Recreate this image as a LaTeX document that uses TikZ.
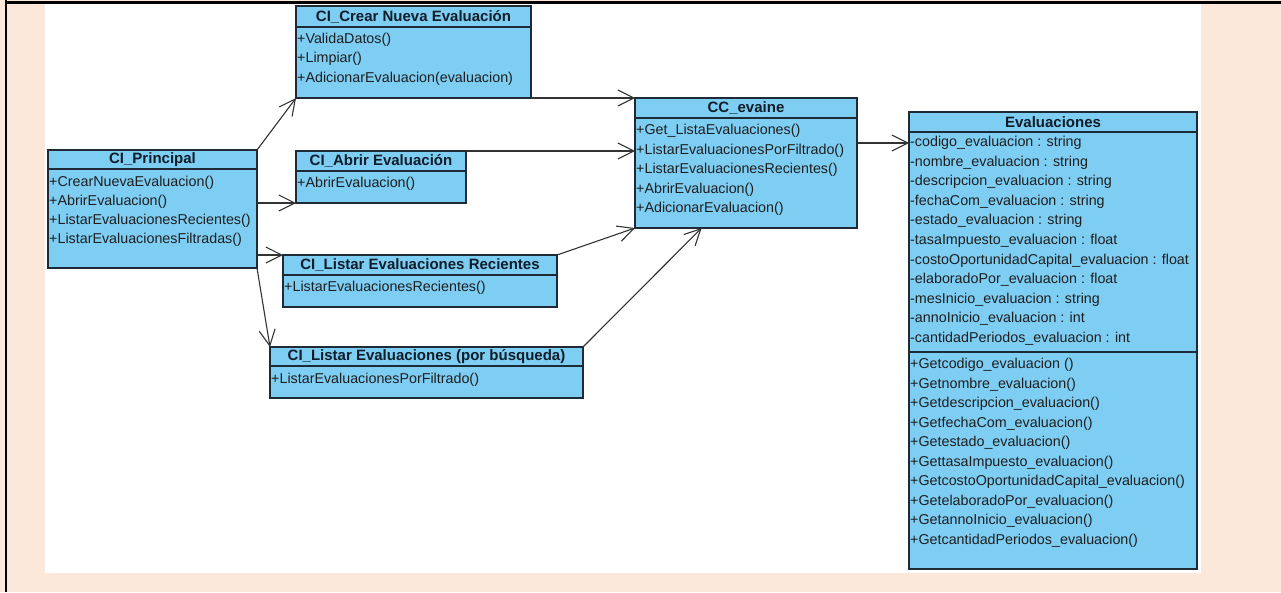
\documentclass[tikz,border=0pt]{standalone}
\usepackage{fontspec}
\setmainfont{Liberation Sans}
\usetikzlibrary{arrows.meta,calc}

\definecolor{peach}{HTML}{FCE8DA}
\definecolor{boxfill}{HTML}{7ECEF4}
\definecolor{boxline}{HTML}{1E2A36}
\definecolor{linecol}{HTML}{333333}
\definecolor{titlecol}{HTML}{101C28}
\definecolor{rowcol}{HTML}{1E1E1E}

\newcommand\rowfont{\fontsize{14.3}{16}\selectfont}
\newcommand\titlefont{\fontsize{15}{16}\selectfont\bfseries}

\tikzset{
  cls/.style={draw=boxline, fill=boxfill, line width=1.4pt, anchor=north west,
              inner sep=0pt, outer sep=0pt},
  sepline/.style={draw=boxline, line width=1.4pt},
  ttl/.style={font=\titlefont, text=titlecol, inner sep=0pt},
  row/.style={font=\rowfont, text=rowcol, anchor=west, inner xsep=1pt, inner ysep=0pt},
  assoc/.style={draw=linecol, line width=1.1pt, -{Straight Barb[length=16pt,width=16pt]}},
}

\begin{document}
\begin{tikzpicture}[x=1pt,y=-1pt]
  % page background, white sheet and frame
  \fill[peach] (0,0) rectangle (1281,592);
  \useasboundingbox (0,0) rectangle (1281,592);
  \fill[white] (45,3) rectangle (1201,573);
  \draw[black, line width=3pt] (6,2) -- (1281,2);
  \draw[black, line width=2.5pt] (6,0) -- (6,592);

  % ---------- CI_Principal ----------
  \node[cls, minimum width=209pt, minimum height=118pt] (principal) at (48,150) {};
  \draw[sepline] (48,169) -- (257,169);
  \node[ttl] (principal-t) at (152.5,159.5) {CI\_Principal};
  \node[row] (p1) at (48,183) {+CrearNuevaEvaluacion()};
  \node[row] (p2) at (48,202) {+AbrirEvaluacion()};
  \node[row] (p3) at (48,221) {+ListarEvaluacionesRecientes()};
  \node[row] (p4) at (48,240) {+ListarEvaluacionesFiltradas()};

  % ---------- CI_Crear Nueva Evaluación ----------
  \node[cls, minimum width=235pt, minimum height=92pt] (crear) at (296,6) {};
  \draw[sepline] (296,27) -- (531,27);
  \node[ttl] (crear-t) at (413.5,16.5) {CI\_Crear Nueva Evaluación};
  \node[row] (c1) at (296,40) {+ValidaDatos()};
  \node[row] (c2) at (296,59) {+Limpiar()};
  \node[row] (c3) at (296,79) {+AdicionarEvaluacion(evaluacion)};

  % ---------- CI_Abrir Evaluación ----------
  \node[cls, minimum width=170pt, minimum height=52pt] (abrir) at (296,151) {};
  \draw[sepline] (296,171) -- (466,171);
  \node[ttl] (abrir-t) at (381,161) {CI\_Abrir Evaluación};
  \node[row] (a1) at (296,184) {+AbrirEvaluacion()};

  % ---------- CI_Listar Evaluaciones Recientes ----------
  \node[cls, minimum width=274pt, minimum height=52pt] (recientes) at (283,255) {};
  \draw[sepline] (283,275) -- (557,275);
  \node[ttl] (recientes-t) at (420,265) {CI\_Listar Evaluaciones Recientes};
  \node[row] (r1) at (283,288) {+ListarEvaluacionesRecientes()};

  % ---------- CI_Listar Evaluaciones (por búsqueda) ----------
  \node[cls, minimum width=313pt, minimum height=51pt] (busq) at (270,347) {};
  \draw[sepline] (270,366) -- (583,366);
  \node[ttl] (busq-t) at (426.5,356.5) {CI\_Listar Evaluaciones (por búsqueda)};
  \node[row] (b1) at (270,380) {+ListarEvaluacionesPorFiltrado()};

  % ---------- CC_evaine ----------
  \node[cls, minimum width=222pt, minimum height=130pt] (evaine) at (635,98) {};
  \draw[sepline] (635,118) -- (857,118);
  \node[ttl] (evaine-t) at (746,108) {CC\_evaine};
  \node[row] (e1) at (635,131) {+Get\_ListaEvaluaciones()};
  \node[row] (e2) at (635,150.5) {+ListarEvaluacionesPorFiltrado()};
  \node[row] (e3) at (635,170) {+ListarEvaluacionesRecientes()};
  \node[row] (e4) at (635,189.5) {+AbrirEvaluacion()};
  \node[row] (e5) at (635,209) {+AdicionarEvaluacion()};

  % ---------- Evaluaciones ----------
  \node[cls, minimum width=288pt, minimum height=457pt] (eval) at (909,112) {};
  \draw[sepline] (909,132) -- (1197,132);
  \draw[sepline] (909,352) -- (1197,352);
  \node[ttl] (eval-t) at (1053,122) {Evaluaciones};
  \foreach \txt [count=\i from 0] in {
      -codigo\_evaluacion : string,
      -nombre\_evaluacion : string,
      -descripcion\_evaluacion : string,
      -fechaCom\_evaluacion : string,
      -estado\_evaluacion : string,
      -tasaImpuesto\_evaluacion : float,
      -costoOportunidadCapital\_evaluacion : float,
      -elaboradoPor\_evaluacion : float,
      -mesInicio\_evaluacion : string,
      -annoInicio\_evaluacion : int,
      -cantidadPeriodos\_evaluacion : int}
    \node[row] (att\i) at (909,143+19.55*\i) {\txt};
  \foreach \txt [count=\i from 0] in {
      +Getcodigo\_evaluacion (),
      +Getnombre\_evaluacion(),
      +Getdescripcion\_evaluacion(),
      +GetfechaCom\_evaluacion(),
      +Getestado\_evaluacion(),
      +GettasaImpuesto\_evaluacion(),
      +GetcostoOportunidadCapital\_evaluacion(),
      +GetelaboradoPor\_evaluacion(),
      +GetannoInicio\_evaluacion(),
      +GetcantidadPeriodos\_evaluacion()}
    \node[row] (met\i) at (909,365+19.5*\i) {\txt};

  % ---------- associations ----------
  \draw[assoc] (principal.north east) -- (crear.south west);
  \draw[assoc] (abrir.south west -| principal.east) -- (abrir.south west);
  \draw[assoc] (recientes.north west -| principal.east) -- (recientes.north west);
  \draw[assoc] (principal.south east) -- (busq.north west);
  \draw[assoc] (crear.south east) -- (evaine.north west);
  \draw[assoc] (abrir.north east) -- (abrir.north east -| evaine.west);
  \draw[assoc] (recientes.north east) -- (evaine.south west);
  \coordinate (evaineIn) at ($(evaine.south west)!0.3!(evaine.south east)$);
  \draw[assoc] (busq.north east) -- (evaineIn);
  \coordinate (evalIn) at ($(eval.north west)+(0,31)$);
  \draw[assoc] (evalIn -| evaine.east) -- (evalIn);
\end{tikzpicture}
\end{document}
